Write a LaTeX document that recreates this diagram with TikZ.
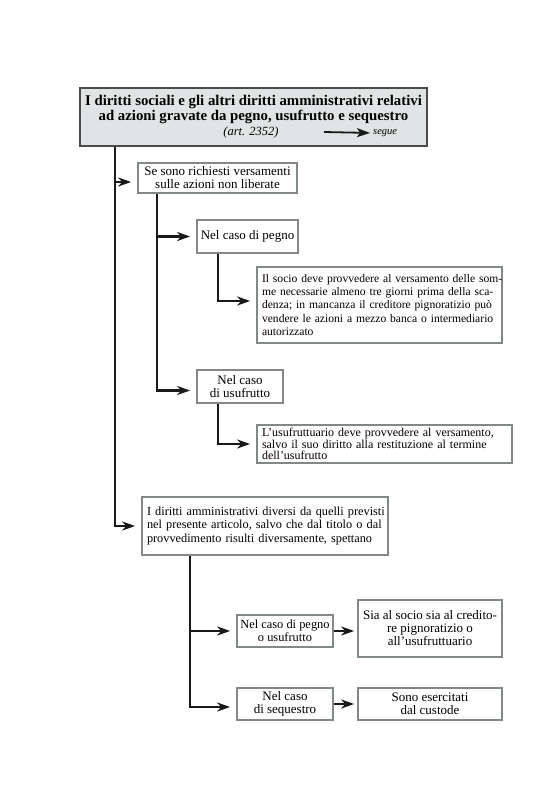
\documentclass[tikz,border=0pt]{standalone}
\usepackage{fontspec}
\setmainfont{Liberation Serif}
\usetikzlibrary{arrows.meta}
\definecolor{boxline}{RGB}{130,135,135}
\definecolor{titlefill}{RGB}{224,228,228}
\definecolor{titleline}{RGB}{75,75,75}
\definecolor{ink}{RGB}{25,25,25}
\newcommand\jl[2]{\makebox[#1][s]{#2}}
\begin{document}
\begin{tikzpicture}[x=1pt,y=-1pt,
  box/.style={draw=boxline, line width=1.7pt, fill=white, inner sep=0pt,
    font=\fontsize{13}{13}\selectfont, align=center},
  conn/.style={draw=ink, line width=2.2pt},
  arr/.style={conn, -{Stealth[length=13pt,width=9pt,inset=4pt]}, shorten >=6pt},
]
\useasboundingbox (0,0) rectangle (559,788);
\fill[white] (0,0) rectangle (559,788);

% title
\node[draw=titleline, line width=2.2pt, fill=titlefill, minimum width=347pt,
  minimum height=58pt, inner sep=0pt] (title) at (253.5,117) {};
\node[font=\fontsize{14.8}{15}\selectfont\bfseries, align=center, inner sep=0pt]
  (titletext) at (253.5,109.5)
  {I diritti sociali e gli altri diritti amministrativi relativi\\
   ad azioni gravate da pegno, usufrutto e sequestro};
\node[font=\fontsize{12.5}{13}\selectfont\itshape, inner sep=0pt] (art) at (251,132.5) {(art. 2352)};
\node[font=\fontsize{10.5}{12}\selectfont\itshape, anchor=west, inner sep=0pt] (segue) at (373,133) {segue};
\coordinate (segstart) at (324,132);
\draw[draw=ink, line width=1.8pt, -{Stealth[length=13pt,width=9pt,inset=3pt]}, shorten >=3pt]
  (segstart) -- (segue.west);

% boxes
\node[box, minimum width=159pt, minimum height=30pt] (b1) at (217.5,178)
  {Se sono richiesti versamenti\\sulle azioni non liberate};
\node[box, minimum width=101pt, minimum height=33pt] (b2) at (247.5,236.5)
  {Nel caso di pegno};
\node[box, minimum width=245pt, minimum height=76pt, text width=235pt, align=left,
  font=\fontsize{11.6}{13.4}\selectfont]
  (b3) at (379.5,305)
  {\jl{235pt}{Il socio deve provvedere al versamento delle som-}\\
   \jl{235pt}{me necessarie almeno tre giorni prima della sca-}\\
   \jl{235pt}{denza; in mancanza il creditore pignoratizio può}\\
   \jl{235pt}{vendere le azioni a mezzo banca o intermediario}\\
   autorizzato};
\node[box, minimum width=86pt, minimum height=33pt] (b4) at (240,386.5)
  {Nel caso\\di usufrutto};
\node[box, minimum width=255pt, minimum height=38pt, text width=245pt, align=left,
  font=\fontsize{12}{11.8}\selectfont]
  (b5) at (384.5,444)
  {\jl{245pt}{L’usufruttuario deve provvedere al versamento,}\\
   \jl{245pt}{salvo il suo diritto alla restituzione al termine}\\
   dell’usufrutto};
\node[box, minimum width=246pt, minimum height=58pt, text width=236pt, align=left,
  font=\fontsize{12.3}{13.4}\selectfont]
  (b6) at (265,526)
  {\jl{236pt}{I diritti amministrativi diversi da quelli previsti}\\
   \jl{236pt}{nel presente articolo, salvo che dal titolo o dal}\\
   provvedimento risulti diversamente, spettano};
\node[box, minimum width=96pt, minimum height=32pt, font=\fontsize{12.4}{13}\selectfont]
  (b7) at (285,631)
  {Nel caso di pegno\\o usufrutto};
\node[box, minimum width=144pt, minimum height=57pt] (b8) at (430,628.5)
  {Sia al socio sia al credito-\\re pignoratizio o\\all’usufruttuario};
\node[box, minimum width=96pt, minimum height=32pt] (b9) at (285,704)
  {Nel caso\\di sequestro};
\node[box, minimum width=144pt, minimum height=32pt] (b10) at (430,704)
  {Sono esercitati\\dal custode};

% trunk coordinates
\coordinate (t0) at (115,0);
\coordinate (t1) at (157,0);
\coordinate (t2) at (218,0);
\coordinate (t3) at (190,0);
\coordinate (b1in) at ([yshift=-4pt]b1.west);
\coordinate (b3in) at ([yshift=4pt]b3.west);
\coordinate (b4in) at ([yshift=-4pt]b4.west);
\coordinate (b9in) at ([yshift=-3pt]b9.west);

% connectors
\draw[arr] (title.south -| t0) |- (b6.west);
\draw[arr] (t0 |- b1in) -- (b1in);
\draw[arr] (b1.south -| t1) |- (b4in);
\draw[arr] (t1 |- b2.west) -- (b2.west);
\draw[arr] (b2.south -| t2) |- (b3in);
\draw[arr] (b4.south -| t2) |- (b5.west);
\draw[arr] (b6.south -| t3) |- (b9in);
\draw[arr] (t3 |- b7.west) -- (b7.west);
\draw[arr, shorten >=3pt] (b7.east) -- (b7.east -| b8.west);
\draw[arr, shorten >=3pt] (b9.east) -- (b9.east -| b10.west);
\end{tikzpicture}
\end{document}
